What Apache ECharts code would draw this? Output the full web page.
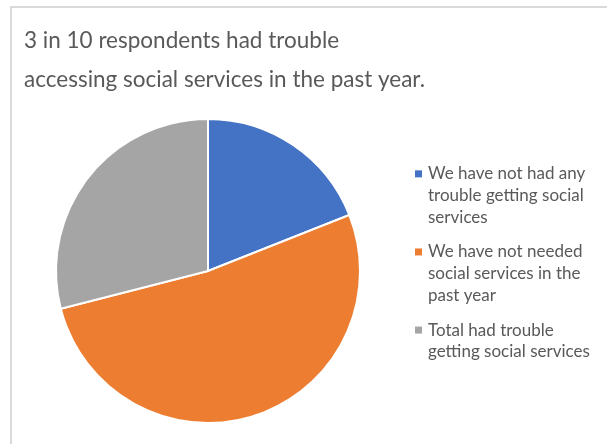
<!DOCTYPE html>
<html>
<head>
<meta charset="utf-8">
<style>
  html, body { margin: 0; padding: 0; background: #ffffff; }
  #chart { width: 607px; height: 444px; }
</style>
<script src="https://cdn.jsdelivr.net/npm/echarts@6/dist/echarts.min.js"></script>
</head>
<body>
<div id="chart"></div>
<script>
// Survey answers, share of respondents (%)
const categories = [
  'We have not had any trouble getting social services',
  'We have not needed social services in the past year',
  'Total had trouble getting social services'
];
// Wrapped legend lines for each category
const legendLines = [
  ['We have not had any', 'trouble getting social', 'services'],
  ['We have not needed', 'social services in the', 'past year'],
  ['Total had trouble', 'getting social services']
];
const shares = [19, 52, 29];
const sliceColors = ['#4472C4', '#ED7D31', '#A5A5A5'];
const titleLines = ['3 in 10 respondents had trouble', 'accessing social services in the past year.'];

const FONT = 'Lato';
const chart = echarts.init(document.getElementById('chart'), null, { renderer: 'canvas' });

// Rich styles: a coloured square token per category plus a hanging indent token
const rich = { t: { fontFamily: FONT, fontSize: 17, color: '#595959', lineHeight: 21.7 },
               ind: { width: 13, lineHeight: 21.7 } };
categories.forEach((c, i) => {
  rich['m' + i] = { width: 7, height: 7, backgroundColor: sliceColors[i] };
  rich['g' + i] = { width: 6 };
});

chart.setOption({
  animation: false,
  color: sliceColors,
  title: {
    text: titleLines.join('\n'),
    left: 19,
    top: 16,
    textStyle: { fontFamily: FONT, fontSize: 22.5, fontWeight: 'normal', color: '#595959', lineHeight: 39 }
  },
  legend: {
    orient: 'vertical',
    left: 405,
    top: 158,
    icon: 'none',
    itemWidth: 0,
    itemHeight: 7,
    itemGap: 13,
    selectedMode: false,
    data: categories,
    formatter: function (name) {
      const i = categories.indexOf(name);
      return legendLines[i].map((line, k) =>
        (k === 0 ? '{m' + i + '| }{g' + i + '| }' : '{ind| }') + '{t|' + line + '}'
      ).join('\n');
    },
    textStyle: { rich: rich, lineHeight: 21.7 }
  },
  graphic: [
    { type: 'line', silent: true, shape: { x1: 11, y1: 6, x2: 11, y2: 444 }, style: { stroke: '#d9d9d9', lineWidth: 2 } },
    { type: 'line', silent: true, shape: { x1: 10, y1: 7, x2: 607, y2: 7 }, style: { stroke: '#d9d9d9', lineWidth: 2 } }
  ],
  series: [{
    type: 'pie',
    center: [208, 271],
    radius: 152,
    startAngle: 90,
    clockwise: true,
    label: { show: false },
    labelLine: { show: false },
    emphasis: { disabled: true },
    itemStyle: { borderColor: '#ffffff', borderWidth: 2 },
    data: categories.map((c, i) => ({ name: c, value: shares[i] }))
  }]
});
</script>
</body>
</html>
